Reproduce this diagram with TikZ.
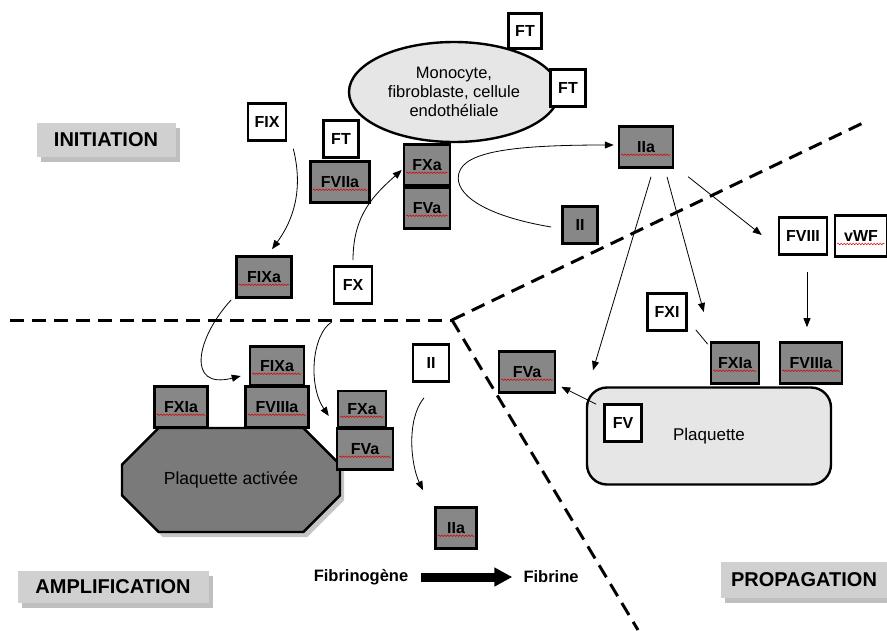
\documentclass[tikz,border=0pt]{standalone}
\usepackage{fontspec}
\setmainfont{Liberation Sans}
\usetikzlibrary{arrows.meta,shapes.geometric,shapes.misc,shadows,calc,decorations.pathmorphing}

\definecolor{boxgray}{RGB}{135,135,135}
\definecolor{cellgray}{RGB}{230,230,230}
\definecolor{labgray}{RGB}{208,208,208}
\definecolor{plaqgray}{RGB}{122,122,122}

\newcommand{\sq}[1]{\tikz[baseline=(w.base)]{\node[inner sep=0pt] (w) {#1};
  \draw[red!85!black, line width=0.5pt, decorate, decoration={snake, amplitude=0.8pt, segment length=3pt}]
    ([yshift=-2.4pt]w.base west) -- ([yshift=-2.4pt]w.base east);}}

\begin{document}
\begin{tikzpicture}[
  x=1pt, y=-1pt,
  >={Triangle[length=9pt,width=7pt]},
  fac/.style={draw, line width=2.6pt, fill=white, minimum width=36, minimum height=37,
              inner sep=2pt, font=\fontsize{16}{18}\selectfont\bfseries},
  facA/.style={fac, fill=boxgray},
  phase/.style={fill=labgray, inner sep=0pt, minimum height=34,
                font=\fontsize{20}{22}\selectfont\bfseries,
                drop shadow={shadow xshift=4pt, shadow yshift=-5pt, fill=black!50}},
  cell/.style={draw, line width=2.4pt, fill=cellgray, align=center,
               font=\fontsize{16.5}{19}\selectfont},
  arr/.style={->, line width=0.8pt},
  cut/.style={line width=3pt, dash pattern=on 14pt off 8pt},
  fat/.style={-{Triangle[length=18pt,width=18pt]}, line width=9pt},
  txt/.style={font=\fontsize{16.5}{19}\selectfont\bfseries, inner sep=0pt},
]
\useasboundingbox (0,0) rectangle (887,630);

\coordinate (v) at (452,320);
\coordinate (dl) at (10,320);
\coordinate (du) at (865,122);
\coordinate (dd) at (638,630);
\draw[cut] (dl) -- (v);
\draw[cut] (v) -- (du);
\draw[cut] (v) -- (dd);

\node[phase, minimum width=139] (init) at (106,140) {INITIATION};
\node[phase, minimum width=191, minimum height=32] (ampl) at (113,587) {AMPLIFICATION};
\node[phase, minimum width=166, minimum height=36] (prop) at (804,580) {PROPAGATION};

\node[cell, ellipse, minimum width=210, minimum height=100] (cel) at (454,92)
  {Monocyte,\\fibroblaste, cellule\\endothéliale};
\node[fac, minimum width=33, minimum height=35] (ft1) at (525,31) {FT};
\node[fac, minimum width=35] (ft2) at (568,88) {FT};
\node[fac, minimum width=35] (ft3) at (341,139) {FT};

\node[fac, minimum width=38] (fix) at (267,122) {FIX};
\node[facA, minimum width=54] (fviia) at (340,182) {\sq{FVIIa}};
\node[facA, minimum width=41] (fxa) at (427,165) {\sq{FXa}};
\node[facA, minimum width=41] (fva) at (427,208) {\sq{FVa}};
\node[facA, minimum width=50] (fixai) at (264,277) {\sq{FIXa}};
\node[fac, minimum width=38] (fx) at (353,285) {FX};

\node[facA, minimum width=49] (iia) at (646,147) {\sq{IIa}};
\node[facA, minimum width=35] (iig) at (580,225) {II};
\node[fac, minimum width=48] (fviii) at (803,236) {FVIII};
\node[fac, minimum width=47] (vwf) at (861,236) {\sq{vWF}};
\node[fac, minimum width=39] (fxi) at (667,312) {FXI};
\node[facA, minimum width=43] (fxiap) at (735,363) {\sq{FXIa}};
\node[facA, minimum width=57] (fviiiap) at (811,363) {\sq{FVIIIa}};

\node[cell, rounded corners=20pt, minimum width=244, minimum height=97,
      font=\fontsize{17}{19}\selectfont] (plaq) at (709,436) {Plaquette};
\node[fac, minimum width=37] (fv) at (623,423) {FV};
\node[facA, minimum width=51] (fvap) at (527,372) {\sq{FVa}};

\node[cell, chamfered rectangle, chamfered rectangle xsep=27pt, chamfered rectangle ysep=25pt,
      fill=plaqgray, minimum width=218, minimum height=104, font=\fontsize{17.5}{19}\selectfont,
      drop shadow={shadow xshift=4pt, shadow yshift=-5pt, fill=black!45}] (plaqa) at (231,480) {Plaquette activée};
\node[facA, minimum width=48] (fxiaa) at (181,407) {\sq{FXIa}};
\node[facA, minimum width=58] (fviiiaa) at (277,407) {\sq{FVIIIa}};
\node[facA, minimum width=49, minimum height=35] (fixaa) at (277,366) {\sq{FIXa}};
\node[facA, minimum width=43, minimum height=32] (fxaa) at (362,409) {\sq{FXa}};
\node[facA, minimum width=51] (fvaa) at (365,449) {\sq{FVa}};

\node[fac, minimum width=36] (iiw) at (431,363) {II};
\node[facA, minimum width=36] (iiab) at (456,528) {\sq{IIa}};
\node[txt] (fibg) at (361,577) {Fibrinogène};
\node[txt] (fibr) at (551,577) {Fibrine};

\coordinate (loop) at ($(fxa.east)+(7,13)$);

\draw[arr] ($(fix.south east)+(6,7)$) .. controls +(10,40) and +(22,-30) .. ($(fixai.north)+(8,-6)$);
\draw[arr] ($(fx.north)+(0,-5)$) .. controls +(0,-45) and +(-28,25) .. ($(fxa.west)+(-1,5)$);
\draw[arr] ($(iig.west)+(-10,2)$) .. controls +(-60,-10) and +(0,20) .. (loop)
  .. controls +(0,-25) and +(-110,0) .. ($(iia.west)+(-4,-2)$);
\draw[arr] ($(iia.south east)+(14,8)$) -- ($(fviii.west)+(-16,-1)$);
\draw[arr] ($(iia.south)+(21,8)$) -- ($(fxi.east)+(16,0)$);
\draw[arr] ($(iia.south)+(5,8)$) -- ($(fv.north)+(-30,-33)$);
\draw[line width=0.8pt] ($(fxi.south east)+(8,-2)$) -- ($(fxiap.north west)+(-2,3)$);
\draw[arr] ($(fviii.south)+(4,16)$) -- ($(fviiiap.north)+(-4,-14)$);
\draw[arr] ($(fv.north west)+(-7,1)$) -- ($(fvap.south east)+(5,-7)$);
\draw[arr] ($(fixai.south west)+(-4,1)$) .. controls +(-35,38) and +(-55,14) .. ($(fixaa.west)+(-8,10)$);
\draw[arr] ($(fx.south)+(-21,17)$) .. controls +(-20,12) and +(-21,-31) .. ($(fxaa.west)+(-8,7)$);
\draw[arr] ($(iiw.south)+(-7,15)$) .. controls +(-18,22) and +(-12,-25) .. ($(iiab.north)+(-33,-16)$);
\draw[fat] ($(fibg.east)+(13,0)$) -- ($(fibr.west)+(-11,0)$);
\end{tikzpicture}
\end{document}
